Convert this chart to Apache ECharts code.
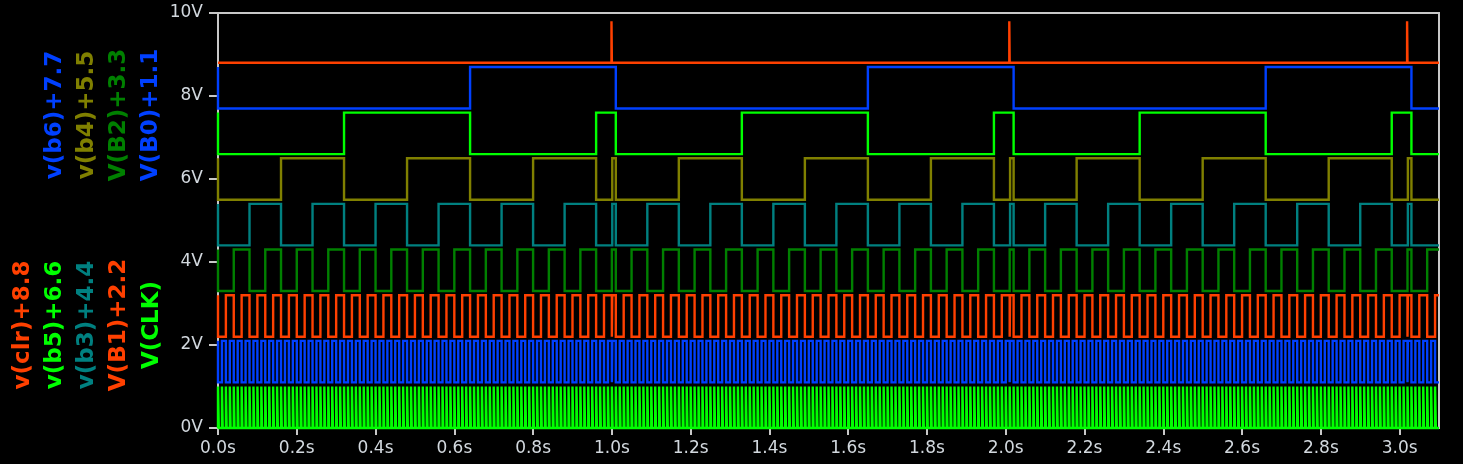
<!DOCTYPE html>
<html><head><meta charset="utf-8">
<script src="https://cdn.jsdelivr.net/npm/echarts@6/dist/echarts.min.js"></script>
<style>html,body{margin:0;padding:0;background:#000;}#chart{width:1463px;height:464px;}</style>
</head><body><div id="chart"></div>
<script>
// ---- DATA (times in ms, levels 0/1; each trace starts at its start level and toggles at the listed times) ----
const timeEndMs = 3100;
const signalNames = ['V(CLK)', 'V(B0)+1.1', 'V(B1)+2.2', 'V(B2)+3.3', 'v(b3)+4.4', 'v(b4)+5.5', 'v(b5)+6.6', 'v(b6)+7.7', 'v(clr)+8.8'];
const signalOffsets = [0, 1.1, 2.2, 3.3, 4.4, 5.5, 6.6, 7.7, 8.8];
const signalStartLevels = [0, 1, 1, 1, 1, 1, 1, 1, 0];

const clkToggles = [
0,2,10,12,20,22,30,32,40,42,50,52,60,62,70,72,80,82,90,92,
100,102,110,112,120,122,130,132,140,142,150,152,160,162,170,172,180,182,190,192,
200,202,210,212,220,222,230,232,240,242,250,252,260,262,270,272,280,282,290,292,
300,302,310,312,320,322,330,332,340,342,350,352,360,362,370,372,380,382,390,392,
400,402,410,412,420,422,430,432,440,442,450,452,460,462,470,472,480,482,490,492,
500,502,510,512,520,522,530,532,540,542,550,552,560,562,570,572,580,582,590,592,
600,602,610,612,620,622,630,632,640,642,650,652,660,662,670,672,680,682,690,692,
700,702,710,712,720,722,730,732,740,742,750,752,760,762,770,772,780,782,790,792,
800,802,810,812,820,822,830,832,840,842,850,852,860,862,870,872,880,882,890,892,
900,902,910,912,920,922,930,932,940,942,950,952,960,962,970,972,980,982,990,992,
1000,1002,1010,1012,1020,1022,1030,1032,1040,1042,1050,1052,1060,1062,1070,1072,1080,1082,1090,1092,
1100,1102,1110,1112,1120,1122,1130,1132,1140,1142,1150,1152,1160,1162,1170,1172,1180,1182,1190,1192,
1200,1202,1210,1212,1220,1222,1230,1232,1240,1242,1250,1252,1260,1262,1270,1272,1280,1282,1290,1292,
1300,1302,1310,1312,1320,1322,1330,1332,1340,1342,1350,1352,1360,1362,1370,1372,1380,1382,1390,1392,
1400,1402,1410,1412,1420,1422,1430,1432,1440,1442,1450,1452,1460,1462,1470,1472,1480,1482,1490,1492,
1500,1502,1510,1512,1520,1522,1530,1532,1540,1542,1550,1552,1560,1562,1570,1572,1580,1582,1590,1592,
1600,1602,1610,1612,1620,1622,1630,1632,1640,1642,1650,1652,1660,1662,1670,1672,1680,1682,1690,1692,
1700,1702,1710,1712,1720,1722,1730,1732,1740,1742,1750,1752,1760,1762,1770,1772,1780,1782,1790,1792,
1800,1802,1810,1812,1820,1822,1830,1832,1840,1842,1850,1852,1860,1862,1870,1872,1880,1882,1890,1892,
1900,1902,1910,1912,1920,1922,1930,1932,1940,1942,1950,1952,1960,1962,1970,1972,1980,1982,1990,1992,
2000,2002,2010,2012,2020,2022,2030,2032,2040,2042,2050,2052,2060,2062,2070,2072,2080,2082,2090,2092,
2100,2102,2110,2112,2120,2122,2130,2132,2140,2142,2150,2152,2160,2162,2170,2172,2180,2182,2190,2192,
2200,2202,2210,2212,2220,2222,2230,2232,2240,2242,2250,2252,2260,2262,2270,2272,2280,2282,2290,2292,
2300,2302,2310,2312,2320,2322,2330,2332,2340,2342,2350,2352,2360,2362,2370,2372,2380,2382,2390,2392,
2400,2402,2410,2412,2420,2422,2430,2432,2440,2442,2450,2452,2460,2462,2470,2472,2480,2482,2490,2492,
2500,2502,2510,2512,2520,2522,2530,2532,2540,2542,2550,2552,2560,2562,2570,2572,2580,2582,2590,2592,
2600,2602,2610,2612,2620,2622,2630,2632,2640,2642,2650,2652,2660,2662,2670,2672,2680,2682,2690,2692,
2700,2702,2710,2712,2720,2722,2730,2732,2740,2742,2750,2752,2760,2762,2770,2772,2780,2782,2790,2792,
2800,2802,2810,2812,2820,2822,2830,2832,2840,2842,2850,2852,2860,2862,2870,2872,2880,2882,2890,2892,
2900,2902,2910,2912,2920,2922,2930,2932,2940,2942,2950,2952,2960,2962,2970,2972,2980,2982,2990,2992,
3000,3002,3010,3012,3020,3022,3030,3032,3040,3042,3050,3052,3060,3062,3070,3072,3080,3082,3090,3092
];

const b0Toggles = [0,
10,20,30,40,50,60,70,80,90,100,110,120,130,140,150,160,170,180,190,200,
210,220,230,240,250,260,270,280,290,300,310,320,330,340,350,360,370,380,390,400,
410,420,430,440,450,460,470,480,490,500,510,520,530,540,550,560,570,580,590,600,
610,620,630,640,650,660,670,680,690,700,710,720,730,740,750,760,770,780,790,800,
810,820,830,840,850,860,870,880,890,900,910,920,930,940,950,960,970,980,990,1000,1001,1010,
1020,1030,1040,1050,1060,1070,1080,1090,1100,1110,1120,1130,1140,1150,1160,1170,1180,1190,1200,1210,
1220,1230,1240,1250,1260,1270,1280,1290,1300,1310,1320,1330,1340,1350,1360,1370,1380,1390,1400,1410,
1420,1430,1440,1450,1460,1470,1480,1490,1500,1510,1520,1530,1540,1550,1560,1570,1580,1590,1600,1610,
1620,1630,1640,1650,1660,1670,1680,1690,1700,1710,1720,1730,1740,1750,1760,1770,1780,1790,1800,1810,
1820,1830,1840,1850,1860,1870,1880,1890,1900,1910,1920,1930,1940,1950,1960,1970,1980,1990,2000,2010,2011,2020,
2030,2040,2050,2060,2070,2080,2090,2100,2110,2120,2130,2140,2150,2160,2170,2180,2190,2200,2210,2220,
2230,2240,2250,2260,2270,2280,2290,2300,2310,2320,2330,2340,2350,2360,2370,2380,2390,2400,2410,2420,
2430,2440,2450,2460,2470,2480,2490,2500,2510,2520,2530,2540,2550,2560,2570,2580,2590,2600,2610,2620,
2630,2640,2650,2660,2670,2680,2690,2700,2710,2720,2730,2740,2750,2760,2770,2780,2790,2800,2810,2820,
2830,2840,2850,2860,2870,2880,2890,2900,2910,2920,2930,2940,2950,2960,2970,2980,2990,3000,3010,3020,3021,3030,
3040,3050,3060,3070,3080,3090
];

const b1Toggles = [0,
20,40,60,80,100,120,140,160,180,200,220,240,260,280,300,320,340,360,380,400,
420,440,460,480,500,520,540,560,580,600,620,640,660,680,700,720,740,760,780,800,
820,840,860,880,900,920,940,960,980,1000,1001,1010,
1030,1050,1070,1090,1110,1130,1150,1170,1190,1210,1230,1250,1270,1290,1310,1330,1350,1370,1390,1410,
1430,1450,1470,1490,1510,1530,1550,1570,1590,1610,1630,1650,1670,1690,1710,1730,1750,1770,1790,1810,
1830,1850,1870,1890,1910,1930,1950,1970,1990,2010,2011,2020,
2040,2060,2080,2100,2120,2140,2160,2180,2200,2220,2240,2260,2280,2300,2320,2340,2360,2380,2400,2420,
2440,2460,2480,2500,2520,2540,2560,2580,2600,2620,2640,2660,2680,2700,2720,2740,2760,2780,2800,2820,
2840,2860,2880,2900,2920,2940,2960,2980,3000,3020,3021,3030,
3050,3070,3090
];

const b2Toggles = [0,
40,80,120,160,200,240,280,320,360,400,440,480,520,560,600,640,680,720,760,800,840,880,920,960,1000,1010,
1050,1090,1130,1170,1210,1250,1290,1330,1370,1410,1450,1490,1530,1570,1610,1650,1690,1730,1770,1810,1850,1890,1930,1970,2010,2020,
2060,2100,2140,2180,2220,2260,2300,2340,2380,2420,2460,2500,2540,2580,2620,2660,2700,2740,2780,2820,2860,2900,2940,2980,3020,3030,
3070
];

const b3Toggles = [0,
80,160,240,320,400,480,560,640,720,800,880,960,1001,1010,
1090,1170,1250,1330,1410,1490,1570,1650,1730,1810,1890,1970,2011,2020,
2100,2180,2260,2340,2420,2500,2580,2660,2740,2820,2900,2980,3021,3030
];

const b4Toggles = [0,
160,320,480,640,800,960,1001,1010,
1170,1330,1490,1650,1810,1970,2011,2020,
2180,2340,2500,2660,2820,2980,3021,3030
];

const b5Toggles = [0, 320,640,960,1010, 1330,1650,1970,2020, 2340,2660,2980,3030];
const b6Toggles = [0, 640,1010, 1650,2020, 2660,3030];
const clrToggles = [999,1000, 2009,2010, 3019,3020];

const yTickLabels = ['0V', '2V', '4V', '6V', '8V', '10V'];

// ---- STYLE ----
const colors = ['#00ff00', '#0040ff', '#ff4000', '#008000', '#008080', '#808000', '#00ff00', '#0040ff', '#ff4000'];
const labelPos = [
  [152, 325], [151, 115], [119, 325], [119, 115], [87, 325], [87, 115], [55, 325], [55, 115], [23, 325]
];

const allToggles = [clkToggles, b0Toggles, b1Toggles, b2Toggles, b3Toggles, b4Toggles, b5Toggles, b6Toggles, clrToggles];

function buildWave(startLevel, toggles, offset) {
  const pts = [];
  let lvl = startLevel;
  pts.push([0, offset + lvl]);
  for (const t of toggles) {
    pts.push([t, offset + lvl]);
    lvl = 1 - lvl;
    pts.push([t, offset + lvl]);
  }
  pts.push([timeEndMs, offset + lvl]);
  return pts;
}

const series = signalNames.map((name, i) => ({
  name: name,
  type: 'line',
  data: buildWave(signalStartLevels[i], allToggles[i], signalOffsets[i]),
  showSymbol: false,
  symbol: 'none',
  clip: false,
  silent: true,
  animation: false,
  lineStyle: { color: colors[i], width: 2.4, join: 'miter', cap: 'butt' },
  z: 3 + i
}));

const chart = echarts.init(document.getElementById('chart'), null, { renderer: 'canvas' });
const axisGray = '#c8c8c8';
const labelGray = '#d2d8de';
chart.setOption({
  backgroundColor: '#000000',
  animation: false,
  grid: { left: 218, right: 24, top: 13, bottom: 36, show: true, borderColor: axisGray, borderWidth: 2, backgroundColor: 'transparent' },
  xAxis: {
    type: 'value', min: 0, max: timeEndMs, interval: 200,
    axisLine: { show: true, onZero: false, lineStyle: { color: axisGray, width: 2 } },
    axisTick: { show: true, length: 7, lineStyle: { color: axisGray, width: 2 } },
    splitLine: { show: false },
    axisLabel: { color: labelGray, fontFamily: 'DejaVu Sans', fontSize: 17, margin: 12, showMaxLabel: false,
      formatter: v => (v / 1000).toFixed(1) + 's' }
  },
  yAxis: {
    type: 'value', min: 0, max: 10, interval: 2,
    axisLine: { show: true, onZero: false, lineStyle: { color: axisGray, width: 2 } },
    axisTick: { show: true, length: 9, lineStyle: { color: axisGray, width: 2 } },
    splitLine: { show: false },
    axisLabel: { color: labelGray, fontFamily: 'DejaVu Sans', fontSize: 17, margin: 15,
      formatter: v => yTickLabels[Math.round(v / 2)] }
  },
  graphic: signalNames.map((name, i) => ({
    type: 'text', x: labelPos[i][0], y: labelPos[i][1], rotation: Math.PI / 2, silent: true,
    style: { text: name, fill: colors[i], font: 'bold 23px "DejaVu Sans"',
      textAlign: 'center', textVerticalAlign: 'middle', align: 'center', verticalAlign: 'middle' }
  })),
  series: series
});
</script>
</body></html>
